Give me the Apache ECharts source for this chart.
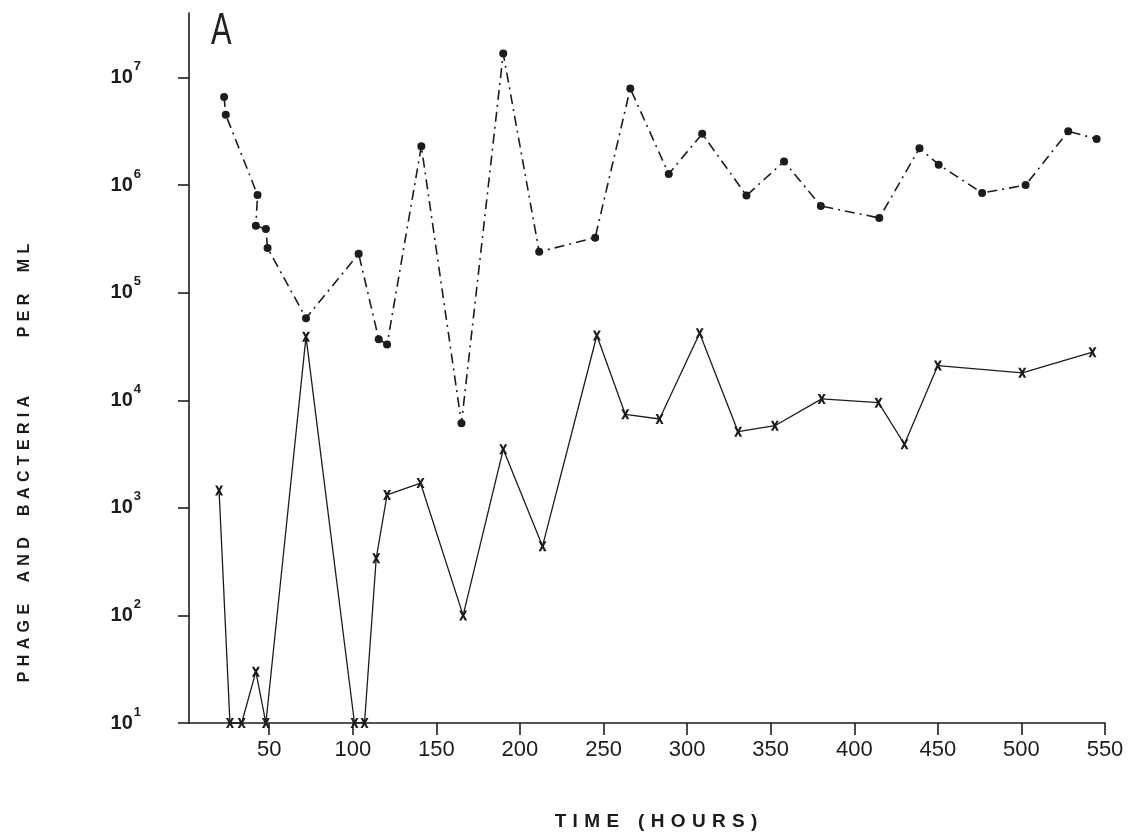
<!DOCTYPE html>
<html>
<head>
<meta charset="utf-8">
<script src="https://cdn.jsdelivr.net/npm/echarts@6/dist/echarts.min.js"></script>
<style>
  html, body { margin: 0; padding: 0; background: #fff; }
  #chart { width: 1130px; height: 836px; }
</style>
</head>
<body>
<div id="chart"></div>
<script>
// phage (dots, dash-dot line)
const phageTime = [23, 24, 43, 42, 48, 49, 72, 103.5, 115.5, 120.5, 141, 165, 190, 211.5, 245, 266, 289, 309, 335.5, 358, 380, 415, 439, 450.5, 476.5, 502.5, 528, 545];
const phageVal = [6.6e6, 4.5e6, 8.1e5, 4.2e5, 3.9e5, 2.6e5, 5.8e4, 2.3e5, 3.7e4, 3.3e4, 2.3e6, 6.1e3, 1.67e7, 2.4e5, 3.25e5, 7.9e6, 1.27e6, 3.0e6, 8.0e5, 1.66e6, 6.4e5, 4.95e5, 2.2e6, 1.55e6, 8.45e5, 1.0e6, 3.16e6, 2.69e6];

// bacteria (x marks, solid line)
const bactTime = [20, 26.5, 33.5, 42, 48, 72, 101, 107, 114, 120.5, 140.5, 166, 190, 213.5, 246, 263, 283.5, 307.5, 330.5, 352.5, 380.5, 414.5, 430, 450, 500.5, 542.5];
const bactVal = [1450, 10, 10, 30, 10, 3.9e4, 10, 10, 340, 1320, 1700, 100, 3.5e3, 440, 4.0e4, 7.4e3, 6.7e3, 4.2e4, 5.1e3, 5.8e3, 1.03e4, 9.5e3, 3.9e3, 2.1e4, 1.8e4, 2.8e4];

const xTicks = [50, 100, 150, 200, 250, 300, 350, 400, 450, 500, 550];
const yTicks = [10, 100, 1000, 1e4, 1e5, 1e6, 1e7];

const INK = '#1c1c1c';
const SP = '\u2004';
const spaced = (words, gap) => words.map(w => w.split('').join(SP)).join(SP.repeat(gap));
const yTitle = spaced(['PHAGE', 'AND', 'BACTERIA'], 4) + SP.repeat(11) + spaced(['PER', 'ML'], 4);
const xTitle = spaced(['TIME', '(HOURS)'], 3);

const xMark = 'path://M0,0 L3,0 L5,3.5 L7,0 L10,0 L6.6,6 L10,12 L7,12 L5,8.5 L3,12 L0,12 L3.4,6 Z';

const chart = echarts.init(document.getElementById('chart'));
chart.setOption({
  backgroundColor: '#fff',
  animation: false,
  grid: { left: 189, right: 25, top: 13, bottom: 113 },
  xAxis: {
    type: 'value',
    min: 2,
    max: 550,
    axisLine: { lineStyle: { color: INK, width: 1.6 } },
    axisTick: { length: 12, lineStyle: { color: INK, width: 1.6 }, customValues: xTicks },
    axisLabel: {
      customValues: xTicks,
      margin: 16,
      color: INK,
      fontFamily: 'Liberation Sans',
      fontSize: 22
    },
    splitLine: { show: false }
  },
  yAxis: {
    type: 'log',
    min: 10,
    max: Math.pow(10, 7.6),
    axisLine: { show: true, lineStyle: { color: INK, width: 1.6 } },
    axisTick: { show: true, length: 11, lineStyle: { color: INK, width: 1.6 }, customValues: yTicks },
    axisLabel: {
      customValues: yTicks,
      margin: 48,
      color: INK,
      formatter: v => '{b|10}{s|' + Math.round(Math.log10(v)) + '}',
      rich: {
        b: { fontFamily: 'Liberation Sans', fontWeight: 'bold', fontSize: 20, color: INK },
        s: { fontFamily: 'Liberation Sans', fontWeight: 'bold', fontSize: 13, color: INK, padding: [0, 0, 22, 1] }
      }
    },
    splitLine: { show: false }
  },
  graphic: [
    {
      type: 'text', x: 211, y: 10, scaleX: 0.7,
      style: { text: 'A', font: '44px "Liberation Sans"', fill: '#222', verticalAlign: 'top' }
    },
    {
      type: 'text', x: 25, y: 463, rotation: Math.PI / 2,
      style: { text: yTitle, font: 'bold 16px "Liberation Sans"', fill: INK, align: 'center', verticalAlign: 'middle' }
    },
    {
      type: 'text', x: 656, y: 822,
      style: { text: xTitle, font: 'bold 19px "Liberation Sans"', fill: INK, align: 'center', verticalAlign: 'middle' }
    }
  ],
  series: [
    {
      name: 'phage',
      type: 'line',
      clip: false,
      symbol: 'circle',
      symbolSize: 8,
      itemStyle: { color: INK },
      lineStyle: { color: INK, width: 1.6, type: [10, 5, 2, 5] },
      data: phageTime.map((t, i) => [t, phageVal[i]])
    },
    {
      name: 'bacteria',
      type: 'line',
      clip: false,
      symbol: xMark,
      symbolSize: [8, 10],
      itemStyle: { color: INK },
      lineStyle: { color: INK, width: 1.3 },
      data: bactTime.map((t, i) => [t, bactVal[i]])
    }
  ]
});
</script>
</body>
</html>
